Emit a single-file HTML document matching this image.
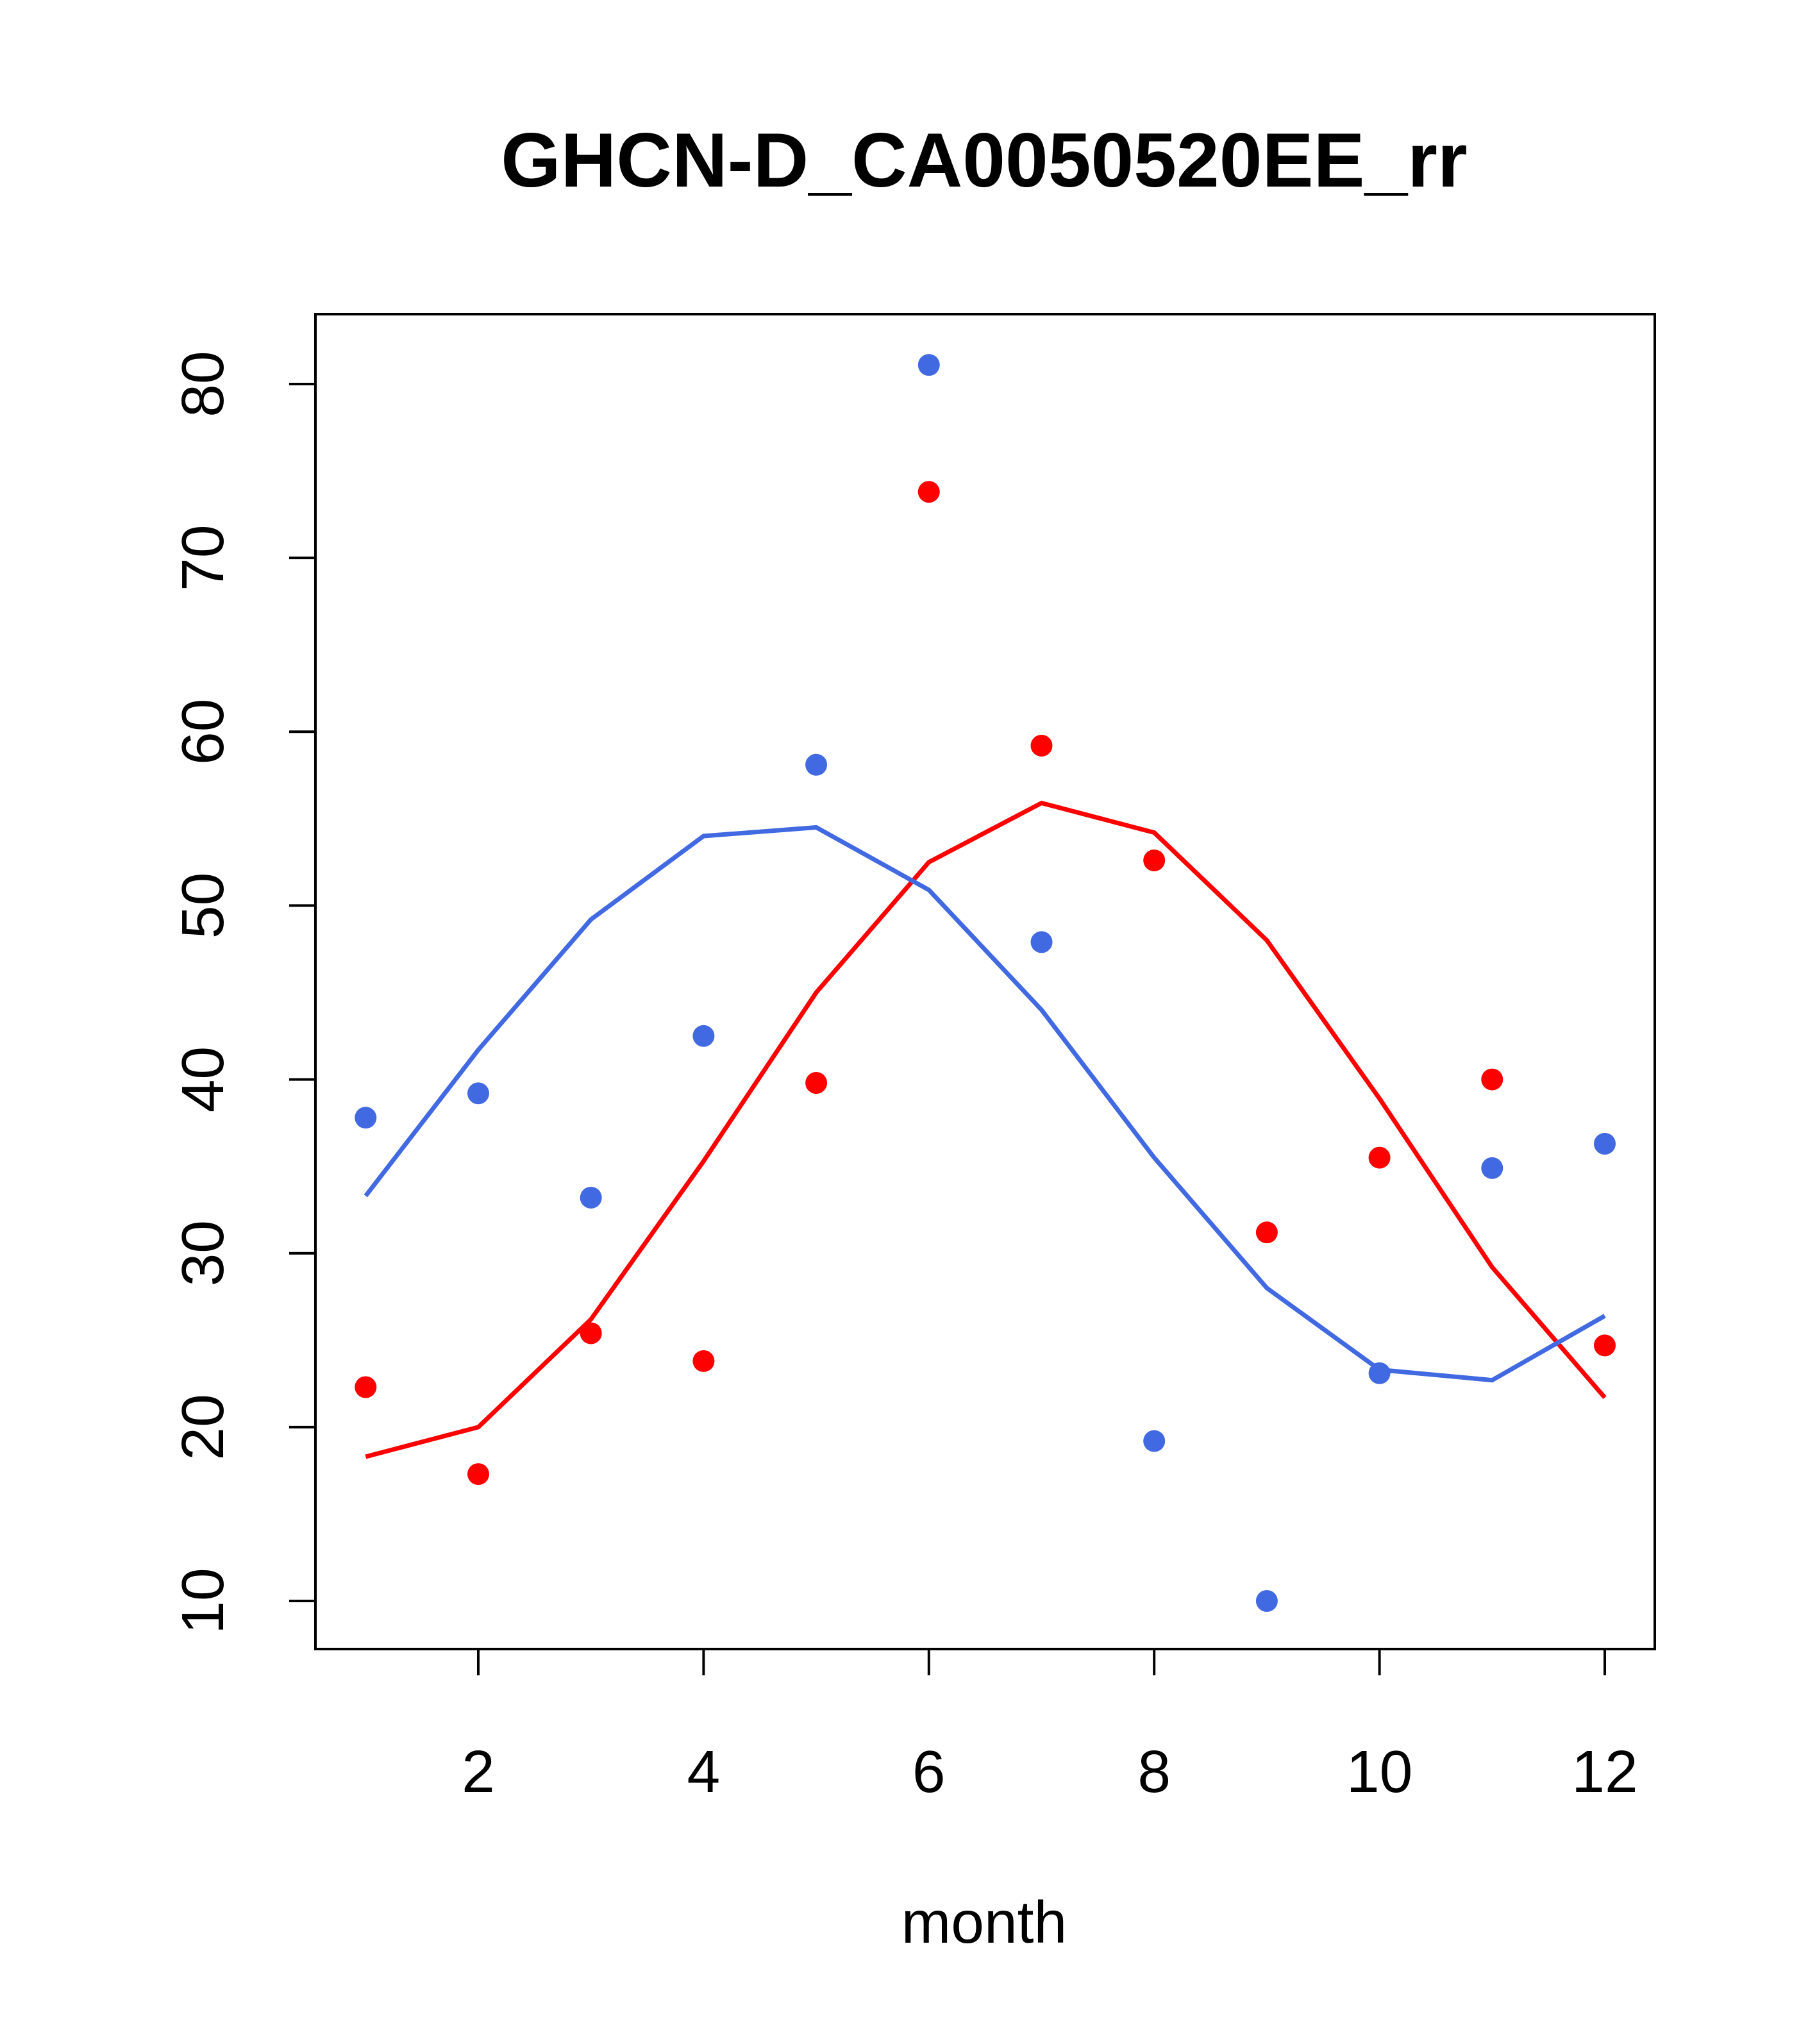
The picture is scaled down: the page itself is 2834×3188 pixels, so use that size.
<!DOCTYPE html>
<html><head><meta charset="utf-8"><style>html,body{margin:0;padding:0;background:#fff}svg{display:block}</style></head>
<body>
<svg id="chart" width="2834" height="3188" xmlns="http://www.w3.org/2000/svg" font-family="Liberation Sans, sans-serif">
<text x="1535" y="291" font-size="120" font-weight="bold" text-anchor="middle">GHCN-D_CA0050520EE_rr</text>
<rect x="492" y="490" width="2089" height="2082" fill="none" stroke="#000" stroke-width="4"/>
<g id="xaxis"></g>
<g id="yaxis"></g>
<text x="1535" y="3030" font-size="93" text-anchor="middle">month</text>
<g id="marks"></g>
</svg>
<script>
const months=[1,2,3,4,5,6,7,8,9,10,11,12];
const bluePoints=[37.8,39.2,33.2,42.5,58.1,81.1,47.9,19.2,10.0,23.1,34.9,36.3];
const redPoints=[22.3,17.3,25.4,23.8,39.8,73.8,59.2,52.6,31.2,35.5,40.0,24.7];
const blueLine=[33.3,41.7,49.2,54.0,54.5,50.9,44.0,35.5,28.0,23.3,22.7,26.4];
const redLine=[18.3,20.0,26.2,35.3,45.0,52.5,55.9,54.2,48.0,38.9,29.2,21.7];
const xTicks=[2,4,6,8,10,12];
const yTicks=[10,20,30,40,50,60,70,80];
const NS="http://www.w3.org/2000/svg";
function sx(m){return 746+(m-2)*(2503-746)/10;}
function sy(v){return 2497-(v-10)*(2497-599)/70;}
function mk(t,a,p){const e=document.createElementNS(NS,t);for(const k in a)e.setAttribute(k,a[k]);p.appendChild(e);return e;}
const xa=document.getElementById('xaxis'),ya=document.getElementById('yaxis'),mg=document.getElementById('marks');
mk('line',{x1:sx(2),x2:sx(12),y1:2572,y2:2572,stroke:'#000','stroke-width':4},xa);
xTicks.forEach(t=>{
 const l=mk('line',{x1:sx(t),x2:sx(t),y1:2572,y2:2613,stroke:'#000','stroke-width':4},xa);
 
 
 const tx=mk('text',{x:sx(t),y:2795,'font-size':93,'text-anchor':'middle'},xa);tx.textContent=t;
 
 
});
mk('line',{x1:492,x2:492,y1:sy(10),y2:sy(80),stroke:'#000','stroke-width':4},ya);
yTicks.forEach(t=>{
 const l=mk('line',{x1:451,x2:492,y1:sy(t),y2:sy(t),stroke:'#000','stroke-width':4},ya);
 
 
 const tx=mk('text',{x:0,y:0,'font-size':93,'text-anchor':'middle',transform:`translate(348,${sy(t)}) rotate(-90)`},ya);tx.textContent=t;
 
 
});
function line(d,c,n){const p=mk('polyline',{points:d.map((v,i)=>sx(months[i])+','+sy(v)).join(' '),fill:'none',stroke:c,'stroke-width':7},mg);
 
 }
function pts(d,c,n){d.forEach((v,i)=>{const e=mk('circle',{cx:sx(months[i]),cy:sy(v),r:17,fill:c},mg);
 
 });}
line(redLine,'#FF0000','red-smooth-line');
line(blueLine,'#4169E1','blue-smooth-line');
pts(redPoints,'#FF0000','red-point');
pts(bluePoints,'#4169E1','blue-point');
</script>
</body></html>
